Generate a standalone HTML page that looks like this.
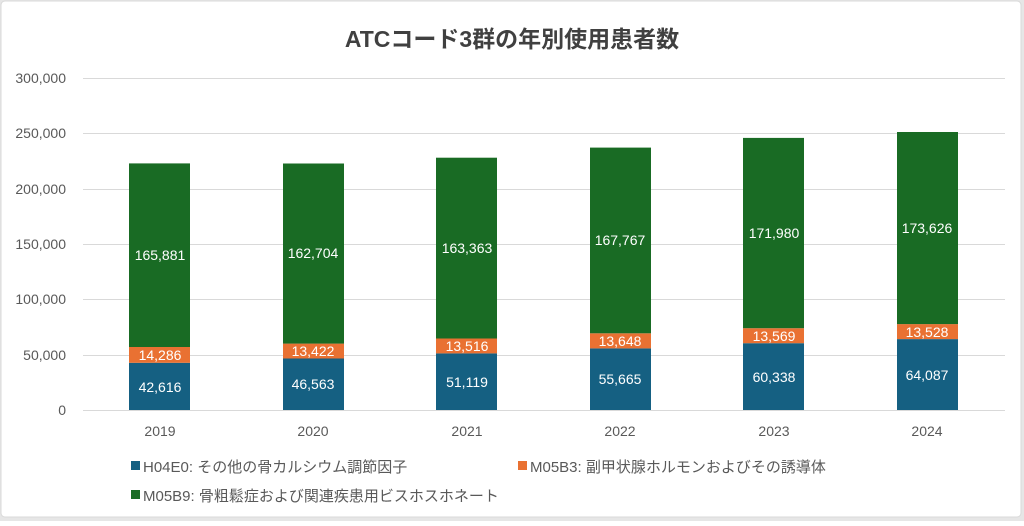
<!DOCTYPE html>
<html><head><meta charset="utf-8"><style>
html,body{margin:0;padding:0;background:#fff;}
body{width:1024px;height:521px;overflow:hidden;}
svg text{font-family:"Liberation Sans","Noto Sans CJK JP",sans-serif;}
</style></head><body>
<svg width="1024" height="521" viewBox="0 0 1024 521" xmlns="http://www.w3.org/2000/svg">
<rect x="0" y="0" width="1024" height="521" fill="#e6e6e6"/>
<rect x="1" y="1" width="1020" height="516" rx="4" fill="#fff" stroke="#d9d9d9"/>
<text x="512" y="47" text-anchor="middle" font-size="23" font-weight="bold" fill="#404040">ATCコード3群の年別使用患者数</text>
<g stroke="#d9d9d9" stroke-width="1">
<line x1="83" x2="1005" y1="78.5" y2="78.5"/>
<line x1="83" x2="1005" y1="133.5" y2="133.5"/>
<line x1="83" x2="1005" y1="189.5" y2="189.5"/>
<line x1="83" x2="1005" y1="244.5" y2="244.5"/>
<line x1="83" x2="1005" y1="299.5" y2="299.5"/>
<line x1="83" x2="1005" y1="355.5" y2="355.5"/>
<line x1="83" x2="1005" y1="410.5" y2="410.5"/>
</g>
<g font-size="14" fill="#595959" text-anchor="end">
<text x="66" y="83">300,000</text>
<text x="66" y="138">250,000</text>
<text x="66" y="194">200,000</text>
<text x="66" y="249">150,000</text>
<text x="66" y="304">100,000</text>
<text x="66" y="360">50,000</text>
<text x="66" y="415">0</text>
</g>
<g>
<rect x="129" y="362.8" width="61" height="47.2" fill="#156082"/>
<rect x="129" y="347.0" width="61" height="15.8" fill="#e97132"/>
<rect x="129" y="163.4" width="61" height="183.6" fill="#196b24"/>
<rect x="283" y="358.5" width="61" height="51.5" fill="#156082"/>
<rect x="283" y="343.6" width="61" height="14.9" fill="#e97132"/>
<rect x="283" y="163.5" width="61" height="180.1" fill="#196b24"/>
<rect x="436" y="353.4" width="61" height="56.6" fill="#156082"/>
<rect x="436" y="338.5" width="61" height="14.9" fill="#e97132"/>
<rect x="436" y="157.7" width="61" height="180.8" fill="#196b24"/>
<rect x="590" y="348.4" width="61" height="61.6" fill="#156082"/>
<rect x="590" y="333.3" width="61" height="15.1" fill="#e97132"/>
<rect x="590" y="147.6" width="61" height="185.7" fill="#196b24"/>
<rect x="743" y="343.2" width="61" height="66.8" fill="#156082"/>
<rect x="743" y="328.2" width="61" height="15.0" fill="#e97132"/>
<rect x="743" y="137.9" width="61" height="190.3" fill="#196b24"/>
<rect x="897" y="339.1" width="61" height="70.9" fill="#156082"/>
<rect x="897" y="324.1" width="61" height="15.0" fill="#e97132"/>
<rect x="897" y="132.0" width="61" height="192.1" fill="#196b24"/>
</g>
<g font-size="14" fill="#fff" text-anchor="middle">
<text x="160" y="392">42,616</text><text x="160" y="360">14,286</text><text x="160" y="260">165,881</text>
<text x="313" y="389">46,563</text><text x="313" y="356">13,422</text><text x="313" y="258">162,704</text>
<text x="467" y="387">51,119</text><text x="467" y="351">13,516</text><text x="467" y="253">163,363</text>
<text x="620" y="384">55,665</text><text x="620" y="346">13,648</text><text x="620" y="245">167,767</text>
<text x="774" y="382">60,338</text><text x="774" y="341">13,569</text><text x="774" y="238">171,980</text>
<text x="927" y="380">64,087</text><text x="927" y="337">13,528</text><text x="927" y="233">173,626</text>
</g>
<g font-size="14" fill="#595959" text-anchor="middle">
<text x="160" y="436">2019</text><text x="313" y="436">2020</text><text x="467" y="436">2021</text>
<text x="620" y="436">2022</text><text x="774" y="436">2023</text><text x="927" y="436">2024</text>
</g>
<g font-size="15" fill="#595959">
<rect x="131" y="461" width="9" height="9" fill="#156082"/>
<text x="143" y="472">H04E0: その他の骨カルシウム調節因子</text>
<rect x="518" y="461" width="9" height="9" fill="#e97132"/>
<text x="530" y="472">M05B3: 副甲状腺ホルモンおよびその誘導体</text>
<rect x="131" y="490" width="9" height="9" fill="#196b24"/>
<text x="143" y="501">M05B9: 骨粗鬆症および関連疾患用ビスホスホネート</text>
</g>
</svg>
</body></html>
